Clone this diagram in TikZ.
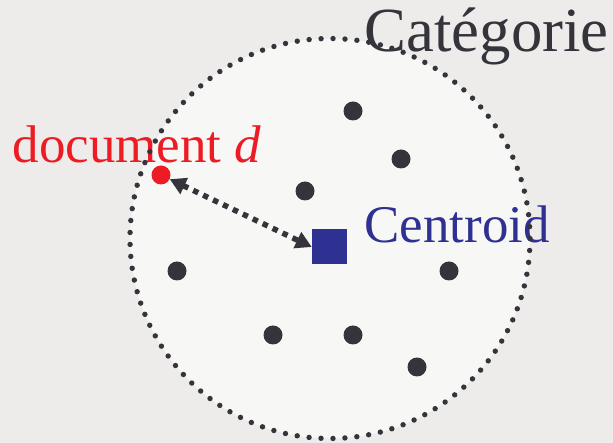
\documentclass[tikz,border=0pt]{standalone}
\usepackage{fontspec}
\setmainfont{Liberation Serif}
\usetikzlibrary{arrows.meta}
\definecolor{bgc}{HTML}{EDECEB}
\definecolor{catfill}{HTML}{F7F7F6}
\definecolor{darkc}{HTML}{35343A}
\definecolor{redc}{HTML}{ED1C24}
\definecolor{bluec}{HTML}{2E3192}
\tikzset{
  member/.style={circle, fill=darkc, inner sep=0pt, minimum size=19pt},
  lbl/.style={inner sep=0pt, anchor=base west},
  arr/.style={draw=darkc, line width=5.5pt, dash pattern=on 5.5pt off 5.5pt,
    {Triangle[length=16pt,width=17pt]}-{Triangle[length=16pt,width=17pt]}},
}
\begin{document}
\begin{tikzpicture}[x=1pt,y=-1pt]
\fill[bgc] (0,0) rectangle (613,443);
\useasboundingbox (0,0) rectangle (613,443);
\node[circle, fill=catfill, minimum size=400pt, inner sep=0pt] (cat) at (330,238.5) {};
\node[lbl, text=darkc, font=\fontsize{62.8}{62.8}\selectfont] (catlbl) at (364.5,52) {Catégorie};
\node[lbl, text=redc, font=\fontsize{53}{53}\selectfont] (dlbl) at (12.5,163) {document \textit{d}};
\node[lbl, text=bluec, font=\fontsize{52.9}{52.9}\selectfont] (clbl) at (364.5,243) {Centroid};
\draw[darkc, line width=5.4pt, line cap=round, dash pattern=on 0pt off 11.97pt] (330,238.5) circle[radius=200];
\node[member] (m1) at (353,111) {};
\node[member] (m2) at (401,159) {};
\node[member] (m3) at (305,191) {};
\node[member] (m4) at (177,271) {};
\node[member] (m5) at (449,271) {};
\node[member] (m6) at (273,335) {};
\node[member] (m7) at (353,335) {};
\node[member] (m8) at (417,367) {};
\node[rectangle, fill=bluec, minimum size=35pt, inner sep=0pt] (cc) at (329.5,247) {};
\node[circle, fill=redc, minimum size=19pt, inner sep=0pt] (dd) at (161,175) {};
\draw[arr] (dd) -- (cc.west);
\end{tikzpicture}
\end{document}
